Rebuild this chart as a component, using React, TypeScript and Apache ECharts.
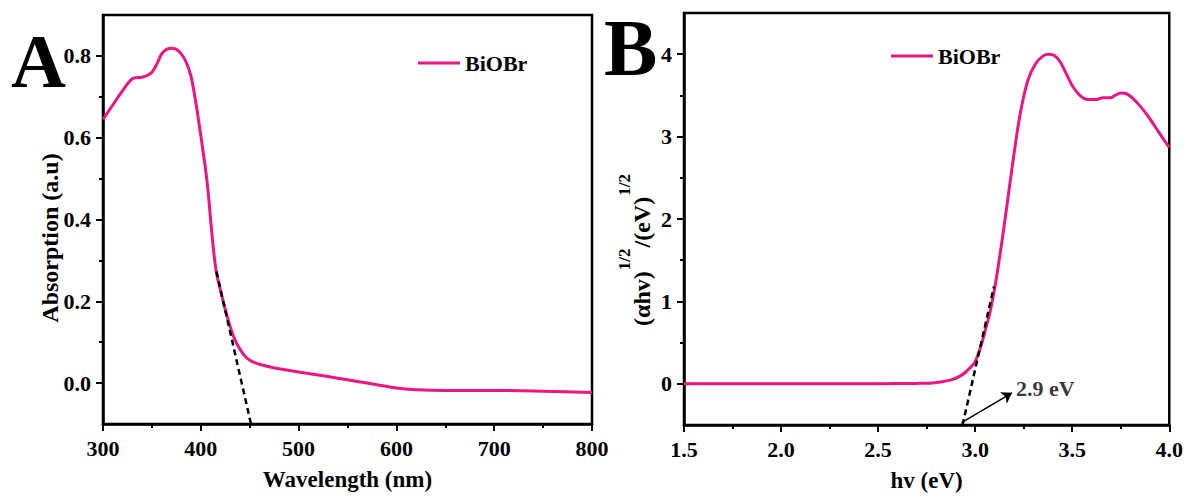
import React, { useEffect, useRef } from 'react';
import * as echarts from 'echarts';

// ---------- Data ----------
const wavelength = [300, 310, 320, 330, 340, 345, 350, 355, 360, 365, 370, 375, 380, 385, 390, 395, 400, 405, 408, 410, 413, 416, 420, 425, 430, 435, 440, 445, 450, 455, 460, 470, 480, 500, 520, 540, 560, 580, 600, 620, 650, 700, 750, 800];
const absorption = [0.645, 0.68, 0.715, 0.744, 0.748, 0.752, 0.76, 0.78, 0.805, 0.816, 0.819, 0.816, 0.805, 0.785, 0.75, 0.685, 0.605, 0.52, 0.455, 0.4, 0.325, 0.27, 0.228, 0.18, 0.138, 0.105, 0.083, 0.066, 0.056, 0.05, 0.046, 0.04, 0.035, 0.027, 0.02, 0.012, 0.004, -0.004, -0.012, -0.016, -0.018, -0.018, -0.02, -0.023];

const energy = [1.5, 2.0, 2.5, 2.7, 2.78, 2.83, 2.88, 2.92, 2.95, 2.98, 3.0, 3.03, 3.06, 3.072, 3.1, 3.13, 3.16, 3.19, 3.23, 3.27, 3.31, 3.35, 3.38, 3.41, 3.44, 3.47, 3.5, 3.54, 3.58, 3.62, 3.66, 3.7, 3.72, 3.75, 3.78, 3.81, 3.85, 3.89, 3.93, 3.97, 4.0];
const tauc = [0, 0, 0.002, 0.005, 0.01, 0.025, 0.05, 0.09, 0.14, 0.21, 0.27, 0.46, 0.72, 0.82, 1.15, 1.6, 2.1, 2.62, 3.25, 3.67, 3.88, 3.98, 4.0, 3.98, 3.9, 3.76, 3.62, 3.5, 3.45, 3.45, 3.47, 3.47, 3.5, 3.53, 3.52, 3.47, 3.37, 3.25, 3.11, 2.97, 2.87];

const tangentA = [[416, 0.273], [451.3, -0.1]];
const tangentB = [[2.935, -0.5], [3.097, 1.18]];
const arrowB = [[2.93, -0.47], [3.19, -0.11]];
const gapLabel = '2.9 eV';
const gapLabelPos = [3.2, -0.06];

const xRangeA = [300, 800, 100];
const yRangeA = [-0.1, 0.9];
const yTicksA = [0, 0.2, 0.4, 0.6, 0.8];
const yMinorA = [0.1, 0.3, 0.5, 0.7];

const xRangeB = [1.5, 4.0, 0.5];
const yRangeB = [-0.5, 4.5];
const yTicksB = [0, 1, 2, 3, 4];
const yMinorB = [0.5, 1.5, 2.5, 3.5];

const seriesName = 'BiOBr';
const titleXA = 'Wavelength (nm)';
const titleYA = 'Absorption (a.u)';
const titleXB = 'hv (eV)';
const titleYBParts = ['(αhv)', '1/2', '/(eV)', '1/2'];

// ---------- Styles ----------
const FONT = '"Liberation Serif", "Times New Roman", serif';
const PINK = '#ec1683';
const BLACK = '#000';

const textBase = { fontFamily: FONT, fontWeight: 'bold', color: BLACK };

function measure(text: string, size: number) {
  const c = document.createElement('canvas').getContext('2d');
  if (!c) return text.length * size * 0.5;
  c.font = `bold ${size}px "Liberation Serif", serif`;
  return c.measureText(text).width;
}

function makeX(gridIndex: number, r: number[], name: string, fmt: (v: number) => string) {
  return {
    type: 'value', gridIndex, min: r[0], max: r[1], interval: r[2],
    name, nameLocation: 'middle', nameGap: 44,
    nameTextStyle: { ...textBase, fontSize: 23 },
    axisLine: { show: true, onZero: false, lineStyle: { color: BLACK, width: 2.5 } },
    axisTick: { show: true, inside: false, length: 7, lineStyle: { color: BLACK, width: 2 } },
    minorTick: { show: true, splitNumber: 2, length: 4, lineStyle: { color: BLACK, width: 2 } },
    axisLabel: { ...textBase, fontSize: 22, margin: 13, formatter: fmt },
    splitLine: { show: false },
    minorSplitLine: { show: false },
  };
}

function makeY(gridIndex: number, r: number[], ticks: number[], fmt: (v: number) => string) {
  return {
    type: 'value', gridIndex, min: r[0], max: r[1], position: 'left',
    axisLine: { show: true, onZero: false, lineStyle: { color: BLACK, width: 2.5 } },
    axisTick: { show: true, inside: false, length: 7, customValues: ticks, lineStyle: { color: BLACK, width: 2 } },
    axisLabel: { ...textBase, fontSize: 22, margin: 12, customValues: ticks, formatter: fmt },
    splitLine: { show: false },
  };
}

function makeYMinor(gridIndex: number, r: number[], ticks: number[]) {
  return {
    type: 'value', gridIndex, min: r[0], max: r[1], position: 'left',
    axisLine: { show: false },
    axisTick: { show: true, inside: false, length: 4, customValues: ticks, lineStyle: { color: BLACK, width: 2 } },
    axisLabel: { show: false },
    splitLine: { show: false },
  };
}

export default function App() {
  const ref = useRef<HTMLDivElement>(null);

  useEffect(() => {
    if (!ref.current) return;
    const chart = echarts.init(ref.current, undefined, { renderer: 'svg' });

    // Superscript title for panel B
    const mainSize = 24;
    const supSize = 17;
    const sizes = [mainSize, supSize, mainSize, supSize];
    const gaps = [1, 1, 1, 0];
    const widths = titleYBParts.map((t, i) => measure(t, sizes[i]));
    const total = widths.reduce((a, b) => a + b, 0) + gaps.reduce((a, b) => a + b, 0);
    let acc = -total / 2;
    const titleChildren = titleYBParts.map((t, i) => {
      const el = {
        type: 'text',
        x: acc,
        y: i % 2 === 1 ? -18 : 0,
        style: {
          text: t, fontFamily: FONT, fontWeight: 'bold', fontSize: sizes[i],
          fill: BLACK, align: 'left', verticalAlign: 'middle',
        },
      };
      acc += widths[i] + gaps[i];
      return el;
    });

    const lineData = (xs: number[], ys: number[]) => xs.map((x, i) => [x, ys[i]]);

    const legendBase = {
      data: [seriesName], itemWidth: 42, itemHeight: 3, icon: 'rect', selectedMode: false,
      itemStyle: { color: PINK, borderWidth: 0 },
      textStyle: { ...textBase, fontSize: 22, padding: [0, 0, 0, 0] },
    };

    chart.setOption({
      animation: false,
      backgroundColor: '#fff',
      grid: [
        { left: 103, top: 15, width: 489, height: 409, show: true, borderColor: BLACK, borderWidth: 2.5, backgroundColor: 'transparent' },
        { left: 684, top: 13, width: 490, height: 412, show: true, borderColor: BLACK, borderWidth: 2.5, backgroundColor: 'transparent' },
      ],
      xAxis: [
        makeX(0, xRangeA, titleXA, (v: number) => String(v)),
        makeX(1, xRangeB, titleXB, (v: number) => v.toFixed(1)),
      ],
      yAxis: [
        makeY(0, yRangeA, yTicksA, (v: number) => v.toFixed(1)),
        makeYMinor(0, yRangeA, yMinorA),
        makeY(1, yRangeB, yTicksB, (v: number) => String(v)),
        makeYMinor(1, yRangeB, yMinorB),
      ],
      legend: [
        { ...legendBase, left: 413, top: 47 },
        { ...legendBase, left: 886, top: 40 },
      ],
      series: [
        {
          name: seriesName, type: 'line', xAxisIndex: 0, yAxisIndex: 0,
          data: lineData(wavelength, absorption), symbol: 'none', smooth: 0.3,
          lineStyle: { color: PINK, width: 3 }, itemStyle: { color: PINK }, z: 3,
        },
        {
          name: 'tangentA', type: 'line', xAxisIndex: 0, yAxisIndex: 0,
          data: tangentA, symbol: 'none',
          lineStyle: { color: BLACK, width: 2.5, type: [6, 4] }, z: 4,
        },
        {
          name: seriesName, type: 'line', xAxisIndex: 1, yAxisIndex: 2,
          data: lineData(energy, tauc), symbol: 'none', smooth: 0.3,
          lineStyle: { color: PINK, width: 3 }, itemStyle: { color: PINK }, z: 3,
        },
        {
          name: 'tangentB', type: 'line', xAxisIndex: 1, yAxisIndex: 2,
          data: tangentB, symbol: 'none',
          lineStyle: { color: BLACK, width: 2.5, type: [6, 4] }, z: 4,
        },
        {
          name: 'arrowB', type: 'lines', coordinateSystem: 'cartesian2d', xAxisIndex: 1, yAxisIndex: 2,
          data: [{ coords: arrowB }], symbol: ['none', 'arrow'], symbolSize: 10,
          lineStyle: { color: BLACK, width: 1.5, opacity: 1 }, z: 5,
        },
        {
          name: 'gapLabel', type: 'scatter', xAxisIndex: 1, yAxisIndex: 2,
          data: [gapLabelPos], symbolSize: 0,
          label: { show: true, position: 'right', distance: 2, formatter: gapLabel, ...textBase, fontSize: 22 },
        },
      ],
      graphic: [
        {
          type: 'text', x: 50, y: 238, rotation: Math.PI / 2,
          style: { text: titleYA, fontFamily: FONT, fontWeight: 'bold', fontSize: 24, fill: BLACK, align: 'center', verticalAlign: 'middle' },
        },
        {
          type: 'group', x: 642, y: 250, rotation: Math.PI / 2,
          children: titleChildren,
        },
        {
          type: 'text', x: 11, y: 61,
          style: { text: 'A', fontFamily: FONT, fontWeight: 'bold', fontSize: 76, fill: BLACK, align: 'left', verticalAlign: 'middle' },
        },
        {
          type: 'text', x: 604, y: 48,
          style: { text: 'B', fontFamily: FONT, fontWeight: 'bold', fontSize: 80, fill: BLACK, align: 'left', verticalAlign: 'middle' },
        },
      ],
    });

    return () => chart.dispose();
  }, []);

  return (
    <div
      ref={ref}
      style={{ position: 'fixed', left: 0, top: 0, width: 1186, height: 497, background: '#fff' }}
    />
  );
}
